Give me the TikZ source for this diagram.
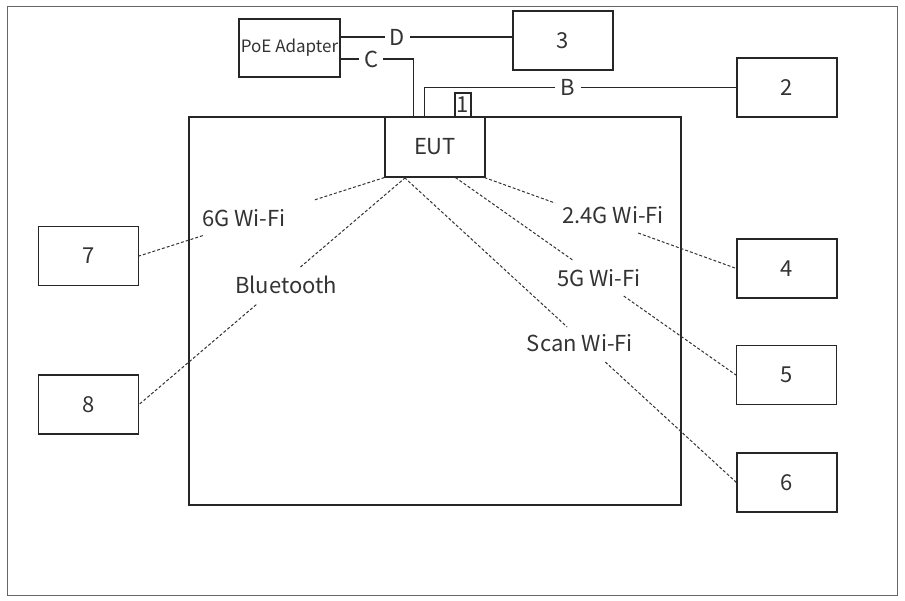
\documentclass[tikz,border=0pt]{standalone}
\usepackage{fontspec}
\setmainfont{Noto Sans CJK SC}
\usetikzlibrary{calc}
\tikzset{
  wire/.style={line width=1.1pt,draw=black!85},
  unit/.style={draw=black!85,line width=1.1pt,minimum width=#1,minimum height=59pt,
    inner sep=0pt,text=black!80,font=\fontsize{22}{26}\selectfont},
  unit/.default=100pt,
  radio/.style={draw=black!80,line width=1pt,dash pattern=on 3pt off 2pt},
  tag/.style={inner sep=0pt,text=black!80,font=\fontsize{22}{26}\selectfont},
}

\begin{document}
\begin{tikzpicture}[x=1pt,y=-1pt]
  \useasboundingbox (0,0) rectangle (905,601);
  \draw[black!60,line width=1pt] (7,7) rectangle (897,595);
  % chamber and EUT
  \node[draw=black!85,line width=1.1pt,minimum width=492pt,minimum height=388pt] (room) at (435,311) {};
  \node[unit,minimum height=60pt] (eut) at (435,147) {EUT};
  \node[unit=16pt,minimum height=24pt] (port) at (463,105) {1};
  \node[unit=101pt,minimum height=58pt,font=\fontsize{17}{20}\selectfont] (poe) at (289.5,48) {PoE Adapter};
  % support units
  \foreach \n/\x/\y in {2/787/87.5,3/563/40.5,4/787/268.5,5/786.5/375,6/787/482.5,7/88.5/256,8/88.5/404.5}
    \node[unit] (n\n) at (\x,\y) {\n};
  % cables
  \coordinate (d0) at ([yshift=11pt]poe.east);
  \coordinate (c0) at ([yshift=-11pt]poe.east);
  \coordinate (c1) at ($(eut.north west)+(29,0)$);
  \coordinate (b1) at ($(eut.north west)+(40,0)$);
  \draw[wire] (d0) -- (d0 -| n3.west) node[pos=0.33,fill=white,tag,inner xsep=5pt] (lD) {D};
  \draw[wire] (c0) -| (c1) node[pos=0.21,fill=white,tag,inner xsep=5pt] (lC) {C};
  \draw[wire] (b1) |- (n2.west) node[pos=0.73,fill=white,tag,inner xsep=6pt] (lB) {B};
  % radio links
  \foreach \s/\t/\a/\b/\lx/\ly/\txt/\nm in {
      0/n7.east/0.29/0.74/244/218/6G Wi-Fi/l6g,
      21/n8.east/0.40/0.56/286/285/Bluetooth/lbt,
      100/n4.west/0.28/0.61/613/215/2.4G Wi-Fi/l24g,
      71/n5.west/0.42/0.60/599/278/5G Wi-Fi/l5g,
      20/n6.west/0.49/0.605/580/343/Scan Wi-Fi/lscan}{
    \coordinate (s) at ($(eut.south west)+(\s,0)$);
    \draw[radio] (s) -- ($(s)!\a!(\t)$) ($(s)!\b!(\t)$) -- (\t);
    \node[tag] (\nm) at (\lx,\ly) {\txt};
  }
\end{tikzpicture}
\end{document}
